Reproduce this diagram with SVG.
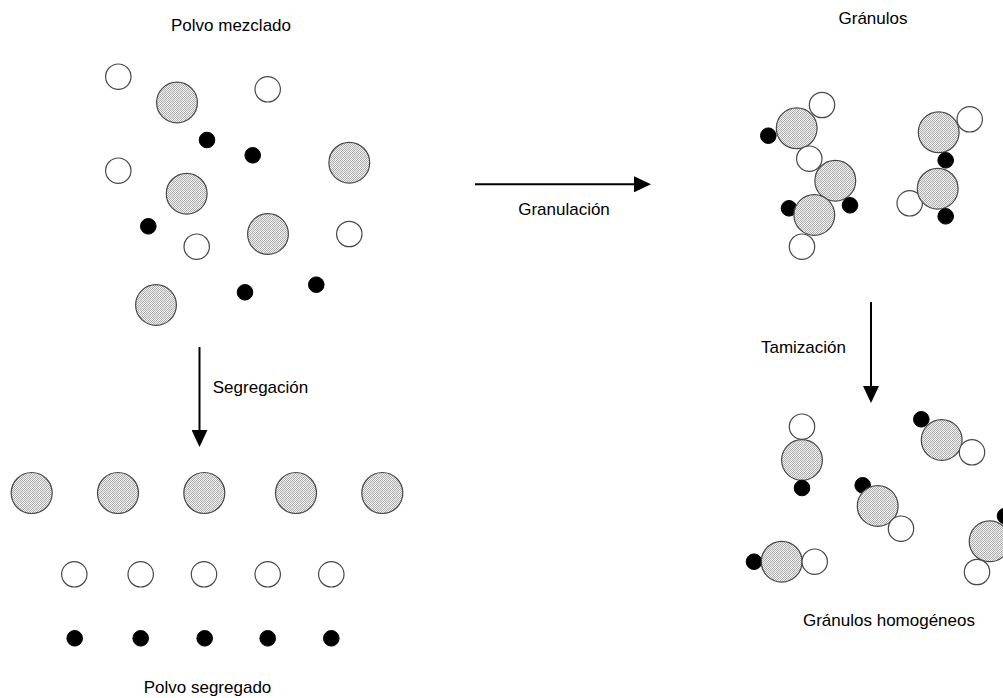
<svg xmlns="http://www.w3.org/2000/svg" width="1003" height="698" viewBox="0 0 1003 698">
<style>
text{font-family:"Liberation Sans",Arial,sans-serif;font-size:17px;fill:#000;text-anchor:middle}
.g{fill:url(#dots);stroke:#484848;stroke-width:1.2}
.w{fill:#fff;stroke:#484848;stroke-width:1.2}
.b{fill:#000;stroke:#000;stroke-width:1}
.arr{stroke:#000;stroke-width:2;fill:none;marker-end:url(#ah)}
</style>
<defs>
<pattern id="dots" width="4" height="4" patternUnits="userSpaceOnUse">
<rect width="4" height="4" fill="#f0f0f0"/>
<rect x="0" y="0" width="1" height="1" fill="#a8a8a8"/>
<rect x="2" y="0" width="1" height="1" fill="#b8b8b8"/>
<rect x="1" y="1" width="1" height="1" fill="#b0b0b0"/>
<rect x="3" y="1" width="1" height="1" fill="#a8a8a8"/>
<rect x="0" y="2" width="1" height="1" fill="#b8b8b8"/>
<rect x="2" y="2" width="1" height="1" fill="#a8a8a8"/>
<rect x="1" y="3" width="1" height="1" fill="#a8a8a8"/>
<rect x="3" y="3" width="1" height="1" fill="#c0c0c0"/>
</pattern>
<marker id="ah" viewBox="0 0 17 16" refX="9" refY="8" markerWidth="17" markerHeight="16" markerUnits="userSpaceOnUse" orient="auto">
<path d="M0,0 L17,8 L0,16 Z" fill="#000"/>
</marker>
</defs>
<g id="polvo-mezclado">
<circle class="w" cx="118.3" cy="76.7" r="12.7"/>
<circle class="g" cx="177" cy="102.5" r="20.4"/>
<circle class="w" cx="267.7" cy="89.3" r="12.7"/>
<circle class="b" cx="207" cy="140" r="7.8"/>
<circle class="b" cx="252.7" cy="155.3" r="7.8"/>
<circle class="g" cx="349.3" cy="162.7" r="20.4"/>
<circle class="w" cx="118.3" cy="170.7" r="12.7"/>
<circle class="g" cx="186.7" cy="193.7" r="20.4"/>
<circle class="b" cx="148.3" cy="226.3" r="7.8"/>
<circle class="w" cx="196.7" cy="246.7" r="12.7"/>
<circle class="g" cx="268" cy="234" r="20.4"/>
<circle class="w" cx="349.3" cy="234" r="12.7"/>
<circle class="b" cx="245" cy="292.3" r="7.8"/>
<circle class="b" cx="316.3" cy="284.7" r="7.8"/>
<circle class="g" cx="156" cy="305" r="20.4"/>
</g>
<g id="polvo-segregado">
<circle class="g" cx="31.7" cy="493" r="20.5"/>
<circle class="g" cx="118" cy="493" r="20.5"/>
<circle class="g" cx="204.3" cy="493" r="20.5"/>
<circle class="g" cx="296" cy="493" r="20.5"/>
<circle class="g" cx="382.3" cy="493" r="20.5"/>
<circle class="w" cx="74.3" cy="574.3" r="12.7"/>
<circle class="w" cx="140.7" cy="574.3" r="12.7"/>
<circle class="w" cx="204" cy="574.3" r="12.7"/>
<circle class="w" cx="267.7" cy="574.3" r="12.7"/>
<circle class="w" cx="331.3" cy="574.3" r="12.7"/>
<circle class="b" cx="74.7" cy="638.3" r="7.8"/>
<circle class="b" cx="140.7" cy="638.3" r="7.8"/>
<circle class="b" cx="204.7" cy="638.3" r="7.8"/>
<circle class="b" cx="267.7" cy="638.3" r="7.8"/>
<circle class="b" cx="331.3" cy="638.3" r="7.8"/>
</g>
<g id="granulos">
<circle class="w" cx="822" cy="105" r="12.7"/>
<circle class="g" cx="796.7" cy="128.3" r="20.4"/>
<circle class="b" cx="768.3" cy="135.7" r="7.8"/>
<circle class="w" cx="809.3" cy="158.7" r="12.7"/>
<circle class="g" cx="835.3" cy="180.7" r="20.4"/>
<circle class="b" cx="850" cy="205.3" r="7.8"/>
<circle class="b" cx="789" cy="208.3" r="7.8"/>
<circle class="g" cx="814.3" cy="215" r="20.4"/>
<circle class="w" cx="802" cy="246.7" r="12.7"/>
<circle class="w" cx="969.7" cy="119.3" r="12.7"/>
<circle class="g" cx="938.7" cy="132.3" r="20.4"/>
<circle class="b" cx="945.7" cy="160.3" r="7.8"/>
<circle class="w" cx="909.7" cy="203.3" r="12.7"/>
<circle class="g" cx="937.7" cy="188.7" r="20.4"/>
<circle class="b" cx="945.7" cy="216.3" r="7.8"/>
</g>
<g id="granulos-homogeneos">
<circle class="w" cx="802" cy="426.7" r="12.7"/>
<circle class="g" cx="802" cy="460" r="20.4"/>
<circle class="b" cx="802" cy="488" r="7.8"/>
<circle class="b" cx="921.3" cy="419.3" r="7.8"/>
<circle class="g" cx="941.7" cy="440" r="20.4"/>
<circle class="w" cx="972" cy="452.3" r="12.7"/>
<circle class="b" cx="862.7" cy="485.3" r="7.8"/>
<circle class="g" cx="877.7" cy="506" r="20.4"/>
<circle class="w" cx="901" cy="528.7" r="12.7"/>
<circle class="b" cx="754" cy="561.7" r="7.8"/>
<circle class="g" cx="781.7" cy="561.7" r="20.4"/>
<circle class="w" cx="814.7" cy="561.7" r="12.7"/>
<circle class="b" cx="1005" cy="516" r="7.8"/>
<circle class="g" cx="989.6" cy="541.3" r="20.4"/>
<circle class="w" cx="977" cy="572" r="12.7"/>
</g>
<g id="connectors">
<line class="arr" x1="475" y1="184.3" x2="643" y2="184.3"/>
<line class="arr" x1="199.5" y1="347" x2="199.5" y2="439"/>
<line class="arr" x1="871" y1="302" x2="871" y2="395"/>
</g>
<g id="labels">
<text x="873" y="24">Gránulos</text>
<text x="231" y="31">Polvo mezclado</text>
<text x="564" y="215">Granulación</text>
<text x="260.5" y="393">Segregación</text>
<text x="803.5" y="353">Tamización</text>
<text x="889" y="626">Gránulos homogéneos</text>
<text x="207.5" y="693">Polvo segregado</text>
</g>
</svg>
